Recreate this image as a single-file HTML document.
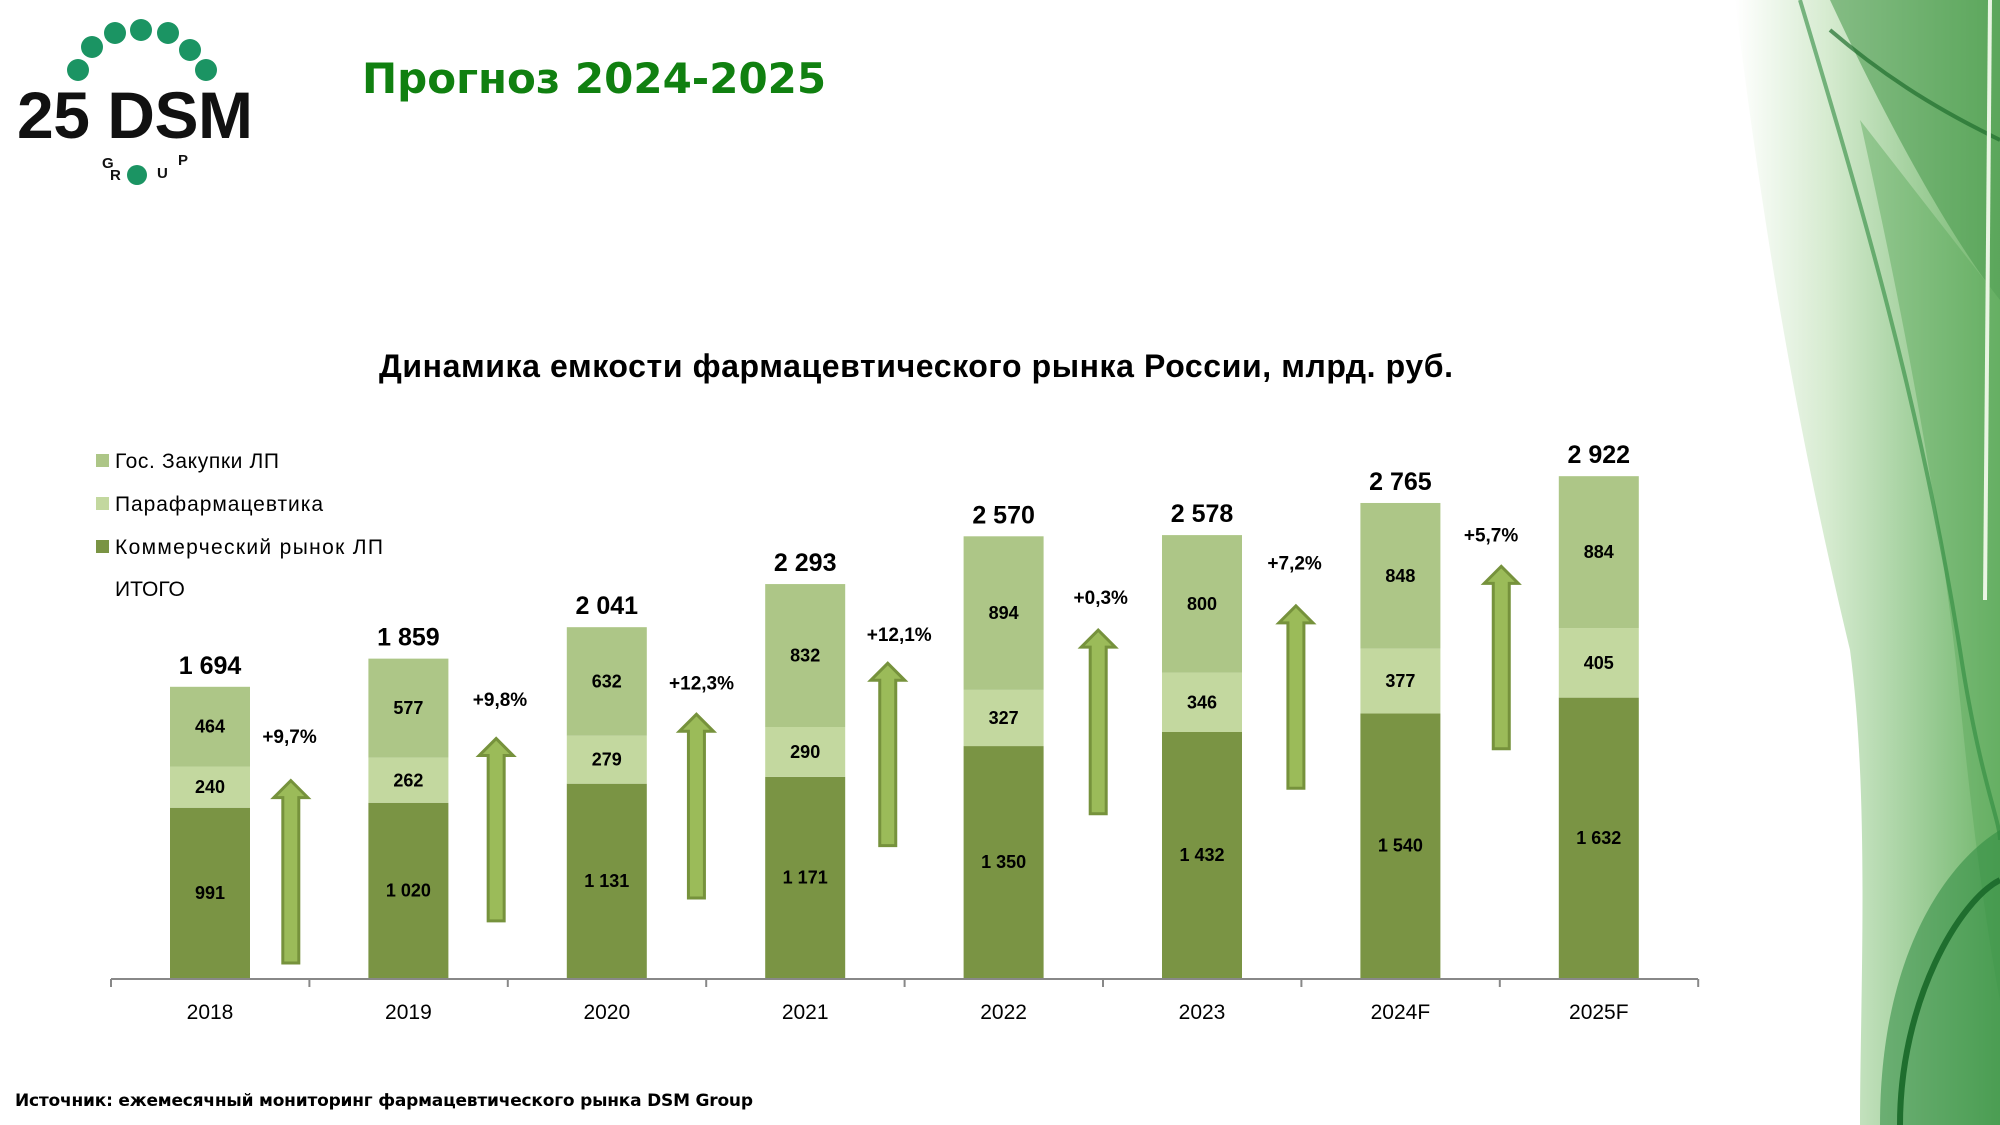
<!DOCTYPE html>
<html><head><meta charset="utf-8"><style>
body{margin:0;width:2000px;height:1125px;overflow:hidden;background:#fff;font-family:"Liberation Sans",sans-serif}
svg{position:absolute;left:0;top:0}
</style></head><body>
<svg id="s" width="2000" height="1125" viewBox="0 0 2000 1125">
<defs>
<linearGradient id="g1" x1="0" y1="0" x2="1" y2="0"><stop offset="0" stop-color="#ffffff"/><stop offset="0.35" stop-color="#d6ebd0"/><stop offset="1" stop-color="#6fb56a"/></linearGradient>
</defs>
<path d="M1735 0 C1760 200 1790 400 1850 650 C1870 800 1860 1000 1860 1125 L2000 1125 L2000 0Z" fill="url(#g1)"/>
<path d="M1830 0 C1900 150 1960 250 2000 300 L2000 0Z" fill="#4f9c52" opacity="0.6"/>
<path d="M1860 120 C1900 300 1940 500 1960 700 C1975 850 1990 950 2000 1000 L2000 300Z" fill="#5aa85a" opacity="0.45"/>
<path d="M1880 1125 C1880 950 1950 860 2000 830 L2000 1125Z" fill="#2e8a40" opacity="0.55"/>
<path d="M1900 1125 C1900 1000 1960 900 2000 880" stroke="#1f6e2e" stroke-width="6" fill="none"/>
<path d="M1830 30 C1900 90 1960 120 2000 140" stroke="#1f6e2e" stroke-width="4" fill="none" opacity="0.7"/>
<path d="M1800 0 C1860 200 1920 400 1960 650 C1980 780 2000 820 2000 840" stroke="#2e8a40" stroke-width="4" fill="none" opacity="0.6"/>
<path d="M1990 0 C1990 200 1985 400 1985 600" stroke="#eaf5e4" stroke-width="4" fill="none"/>
<g fill="#1b9463">
<circle cx="78" cy="70" r="11"/><circle cx="92" cy="47" r="11"/><circle cx="115" cy="33" r="11"/><circle cx="141" cy="30" r="11"/><circle cx="168" cy="33" r="11"/><circle cx="190" cy="50" r="11"/><circle cx="206" cy="70" r="11"/><circle cx="137" cy="175" r="10"/>
</g>
<text x="17" y="138" font-size="66" font-weight="bold" fill="#111" textLength="236">25 DSM</text>
<text x="102" y="168" font-size="15" font-weight="bold" fill="#111">G</text>
<text x="110" y="180" font-size="15" font-weight="bold" fill="#111">R</text>
<text x="157" y="178" font-size="15" font-weight="bold" fill="#111">U</text>
<text x="178" y="165" font-size="15" font-weight="bold" fill="#111">P</text>
<text x="362" y="93" font-size="42" font-weight="bold" fill="#108010" font-family="DejaVu Sans">Прогноз 2024-2025</text>
<text x="916" y="377" font-size="32" font-weight="bold" fill="#000" text-anchor="middle" textLength="1074">Динамика емкости фармацевтического рынка России, млрд. руб.</text>
<g font-size="21" fill="#000">
<rect x="96" y="454" width="13" height="13" fill="#adc687"/><text x="115" y="468" textLength="164">Гос. Закупки ЛП</text>
<rect x="96" y="497" width="13" height="13" fill="#c3d89f"/><text x="115" y="511" textLength="208">Парафармацевтика</text>
<rect x="96" y="540" width="13" height="13" fill="#7a9444"/><text x="115" y="554" textLength="268">Коммерческий рынок ЛП</text>
<text x="115" y="596">ИТОГО</text>
</g>
<text x="15" y="1106" font-size="17" font-weight="bold" fill="#000" font-family="DejaVu Sans" textLength="738">Источник: ежемесячный мониторинг фармацевтического рынка DSM Group</text>
<g id="c"></g>
</svg>
<script>
var S=1.2755,k=0.1718,base=978,data=[
["2018",991,240,464,"1 694"],["2019",1020,262,577,"1 859"],["2020",1131,279,632,"2 041"],["2021",1171,290,832,"2 293"],
["2022",1350,327,894,"2 570"],["2023",1432,346,800,"2 578"],["2024F",1540,377,848,"2 765"],["2025F",1632,405,884,"2 922"]];
var fmt=function(v){var s=String(v);return s.length>3?s.slice(0,-3)+" "+s.slice(-3):s};
var h='<line x1="111" y1="979" x2="1698" y2="979" stroke="#888" stroke-width="2"/>';
for(var i=0;i<=8;i++){var tx=111+198.4*i;h+='<line x1="'+tx+'" y1="979" x2="'+tx+'" y2="987" stroke="#888" stroke-width="2"/>';}
var cols=["#7a9444","#c3d89f","#adc687"];
data.forEach(function(d,i){var cx=210+198.4*i,y=base;
 for(var j=0;j<3;j++){var hh=d[j+1]*k;y-=hh;h+='<rect x="'+(cx-40)+'" y="'+y+'" width="80" height="'+hh+'" fill="'+cols[j]+'"/>';
  h+='<text x="'+cx+'" y="'+(y+hh/2+6)+'" font-size="18" font-weight="bold" text-anchor="middle">'+fmt(d[j+1])+'</text>';}
 h+='<text x="'+cx+'" y="'+(y-13)+'" font-size="25" font-weight="bold" text-anchor="middle">'+d[4]+'</text>';
 h+='<text x="'+cx+'" y="'+(base+41)+'" font-size="21" text-anchor="middle">'+d[0]+'</text>';});
var ar=[[228,612,755,227,577,"+9,7%"],[389,579,722,392,548,"+9,8%"],[546,560,704,550,535,"+12,3%"],[696,520,663,705,497,"+12,1%"],[861,494,638,863,468,"+0,3%"],[1016,475,618,1015,441,"+7,2%"],[1177,444,587,1169,419,"+5,7%"]];
ar.forEach(function(a){var x=a[0]*S,t=a[1]*S,b=a[2]*S;
 h+='<path d="M'+(x-8)+' '+b+' L'+(x-8)+' '+(t+17)+' L'+(x-17)+' '+(t+17)+' L'+x+' '+t+' L'+(x+17)+' '+(t+17)+' L'+(x+8)+' '+(t+17)+' L'+(x+8)+' '+b+'Z" fill="#9bbb59" stroke="#76923c" stroke-width="3"/>';
 h+='<text x="'+(a[3]*S)+'" y="'+(a[4]*S+7)+'" font-size="19" font-weight="bold" text-anchor="middle">'+a[5]+'</text>';});
document.getElementById("c").innerHTML=h;
</script>
</body></html>
